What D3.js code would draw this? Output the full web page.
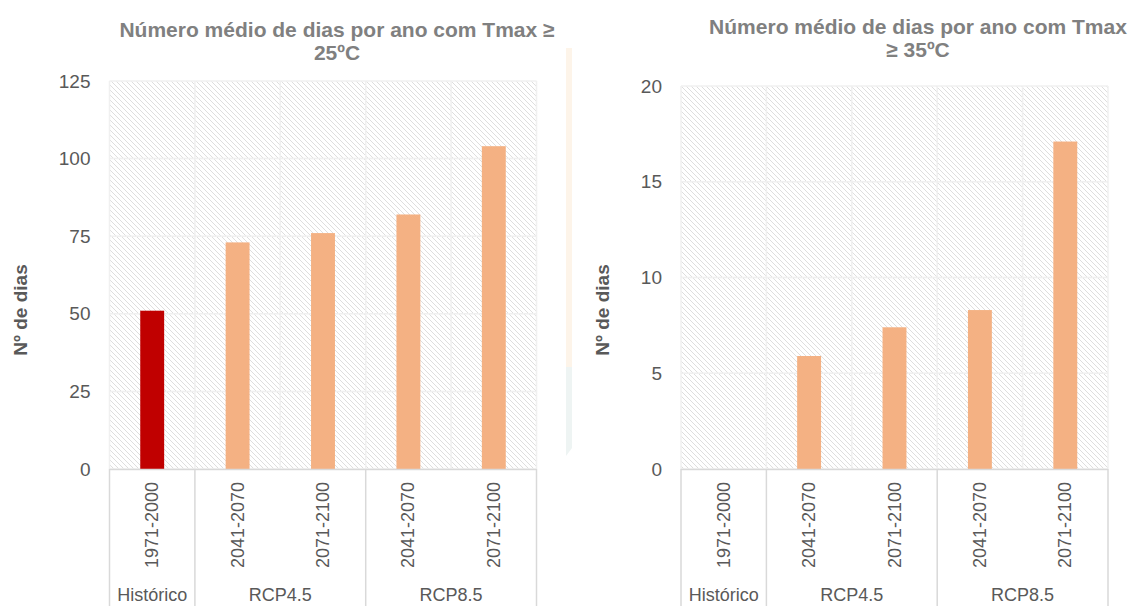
<!DOCTYPE html>
<html>
<head>
<meta charset="utf-8">
<script src="https://cdn.jsdelivr.net/npm/d3@7"></script>
<style>
  body { margin: 0; background: #fff; }
  text { font-family: "Liberation Sans", Arial, sans-serif; }
</style>
</head>
<body>
<script>
// data
let periods = ['1971-2000', '2041-2070', '2071-2100', '2041-2070', '2071-2100'];
let scenarios = ['Histórico', 'RCP4.5', 'RCP4.5', 'RCP8.5', 'RCP8.5'];
let days25 = [51, 73, 76, 82, 104];
let days35 = [0, 5.9, 7.4, 8.3, 17.1];
let ticks25 = [0, 25, 50, 75, 100, 125];
let ticks35 = [0, 5, 10, 15, 20];
let title25 = ['Número médio de dias por ano com Tmax ≥', '25ºC'];
let title35 = ['Número médio de dias por ano com Tmax', '≥ 35ºC'];
let yTitle = 'Nº de dias';

let W = 1134, H = 606;
let svg = d3.select('body').append('svg').attr('width', W).attr('height', H);

let defs = svg.append('defs');
let pat = defs.append('pattern').attr('id', 'hatch')
  .attr('patternUnits', 'userSpaceOnUse').attr('width', 5).attr('height', 5);
pat.append('rect').attr('width', 5).attr('height', 5).attr('fill', '#fff');
pat.append('path')
  .attr('d', 'M0,0 L5,5 M-1,4 L1,6 M4,-1 L6,1')
  .attr('stroke', '#dedede').attr('stroke-width', 1);

// faint decorative strip between the two charts
svg.append('rect').attr('x', 566).attr('y', 48).attr('width', 6).attr('height', 319).attr('fill', '#fdf4e9');
svg.append('path').attr('d', 'M566,367 L572,367 L572,448 L566,456 Z').attr('fill', '#eef4f3');

function drawChart(o) {
  let g = svg.append('g');

  let x = d3.scaleBand().domain(d3.range(o.values.length))
    .range([o.left, o.right]).paddingInner(0).paddingOuter(0);
  let y = d3.scaleLinear().domain([0, d3.max(o.ticks)]).range([o.bottom, o.top]);

  // hatched plot area
  g.append('rect').attr('x', o.left).attr('y', o.top)
    .attr('width', o.right - o.left).attr('height', o.bottom - o.top)
    .attr('fill', 'url(#hatch)');

  // grid
  g.selectAll('.hgrid').data(o.ticks).enter().append('line')
    .attr('x1', o.left).attr('x2', o.right)
    .attr('y1', d => y(d)).attr('y2', d => y(d))
    .attr('stroke', '#f0f0f0').attr('stroke-width', 1.5);
  let bounds = d3.range(o.values.length + 1).map(i => i < o.values.length ? x(i) : o.right);
  g.selectAll('.vgrid').data(bounds).enter().append('line')
    .attr('x1', d => d).attr('x2', d => d)
    .attr('y1', o.top).attr('y2', o.bottom)
    .attr('stroke', '#f0f0f0').attr('stroke-width', 1.5);

  // bars
  let bw = x.bandwidth() * 0.28;
  g.selectAll('.bar').data(o.values).enter().append('rect')
    .attr('x', (d, i) => x(i) + (x.bandwidth() - bw) / 2)
    .attr('y', d => y(d))
    .attr('width', bw)
    .attr('height', d => o.bottom - y(d))
    .attr('fill', (d, i) => scenarios[i] === 'Histórico' ? '#c00000' : '#f4b183');

  // y tick labels
  g.selectAll('.ytick').data(o.ticks).enter().append('text')
    .attr('x', o.left - 19).attr('y', d => y(d))
    .attr('text-anchor', 'end').attr('dominant-baseline', 'central')
    .attr('font-size', 19).attr('fill', '#595959')
    .text(d => d);

  // category axis box
  g.append('line').attr('x1', o.left).attr('x2', o.right)
    .attr('y1', o.bottom + 0.5).attr('y2', o.bottom + 0.5)
    .attr('stroke', '#d9d9d9').attr('stroke-width', 1.5);

  let runs = [];
  scenarios.forEach((s, i) => {
    if (runs.length && runs[runs.length - 1].name === s) runs[runs.length - 1].end = i;
    else runs.push({ name: s, start: i, end: i });
  });
  let sepX = [o.left].concat(runs.map(r => r.end + 1 < o.values.length ? x(r.end + 1) : o.right));
  g.selectAll('.sep').data(sepX).enter().append('line')
    .attr('x1', d => d).attr('x2', d => d)
    .attr('y1', o.bottom).attr('y2', H)
    .attr('stroke', '#d9d9d9').attr('stroke-width', 1.5);

  g.selectAll('.period').data(periods).enter().append('text')
    .attr('transform', (d, i) => 'translate(' + (x(i) + x.bandwidth() / 2) + ',' + (o.bottom + 13) + ') rotate(-90)')
    .attr('text-anchor', 'end').attr('dominant-baseline', 'central')
    .attr('font-size', 18).attr('fill', '#595959')
    .text(d => d);

  g.selectAll('.scen').data(runs).enter().append('text')
    .attr('x', r => (x(r.start) + (r.end + 1 < o.values.length ? x(r.end + 1) : o.right)) / 2)
    .attr('y', 601)
    .attr('text-anchor', 'middle')
    .attr('font-size', 18).attr('fill', '#595959')
    .text(r => r.name);

  // titles
  g.selectAll('.title').data(o.title).enter().append('text')
    .attr('x', o.titleX).attr('y', (d, i) => o.titleY + i * 23)
    .attr('text-anchor', 'middle')
    .attr('font-size', 21).attr('font-weight', 'bold').attr('fill', '#808080')
    .text(d => d);

  g.append('text')
    .attr('transform', 'translate(' + o.yTitleX + ',' + o.yTitleY + ') rotate(-90)')
    .attr('text-anchor', 'middle').attr('dominant-baseline', 'central')
    .attr('font-size', 19).attr('font-weight', 'bold').attr('fill', '#595959')
    .text(yTitle);
}

drawChart({ values: days25, ticks: ticks25, left: 109.5, right: 536.5, top: 81, bottom: 469,
  title: title25, titleX: 337, titleY: 37, yTitleX: 20, yTitleY: 310 });
drawChart({ values: days35, ticks: ticks35, left: 681, right: 1108, top: 86, bottom: 469,
  title: title35, titleX: 918, titleY: 34, yTitleX: 602, yTitleY: 310 });
</script>
</body>
</html>
